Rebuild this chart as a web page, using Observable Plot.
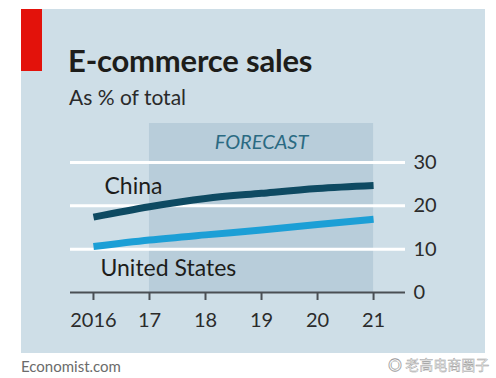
<!DOCTYPE html>
<html>
<head>
<meta charset="utf-8">
<script src="https://cdn.jsdelivr.net/npm/d3@7"></script>
<script src="https://cdn.jsdelivr.net/npm/@observablehq/plot@0.6"></script>
<style>
  html, body { margin: 0; padding: 0; background: #ffffff; }
  #wrap { position: relative; width: 496px; height: 378px; overflow: hidden; font-family: Lato, "Open Sans", sans-serif; }
  #panel { position: absolute; left: 21px; top: 9px; width: 464px; height: 344px; background: #cedee7; }
  #redbar { position: absolute; left: 21px; top: 9px; width: 21px; height: 62px; background: #e3120b; }
  #title { position: absolute; left: 68px; top: 41px; font-size: 31px; font-weight: 700; color: #1d1d1b; letter-spacing: -0.2px; }
  #subtitle { position: absolute; left: 69px; top: 84px; font-size: 21px; color: #2a2a2a; }
  #chart { position: absolute; left: 0; top: 110px; }
  #caption { position: absolute; left: 21px; top: 357px; font-size: 15px; color: #6b6b6b; }
  #mark { position: absolute; left: 388px; top: 356px; font-size: 14px; line-height: 16px; color: #f4f4f4; font-family: "Noto Sans CJK SC", sans-serif; -webkit-text-stroke: 0.4px #9a9a9a; white-space: nowrap; }
</style>
</head>
<body>
<div id="wrap">
  <div id="panel"></div>
  <div id="redbar"></div>
  <div id="title">E-commerce sales</div>
  <div id="subtitle">As % of total</div>
  <div id="chart"></div>
  <div id="caption">Economist.com</div>
  <div id="mark">◎ 老高电商圈子</div>
</div>
<script>
const years = [2016, 2017, 2018, 2019, 2020, 2021];
const china = [17.4, 19.8, 21.7, 22.9, 24.0, 24.7];
const unitedStates = [10.6, 12.1, 13.3, 14.4, 15.7, 16.9];
const yTicks = [0, 10, 20, 30];
const forecastStart = 2017;
const forecastEnd = 2021;

const rows = [];
years.forEach((yr, i) => {
  rows.push({year: yr, value: china[i], series: "China"});
  rows.push({year: yr, value: unitedStates[i], series: "United States"});
});

const chart = Plot.plot({
  width: 496,
  height: 240,
  marginLeft: 70,
  marginRight: 91,
  marginTop: 13,
  marginBottom: 58,
  style: {background: "transparent", overflow: "visible"},
  x: {domain: [2015.59, 2021.57]},
  y: {domain: [0, 39]},
  color: {domain: ["China", "United States"], range: ["#0e4a62", "#1c9fd6"]},
  marks: [
    Plot.rect([{x1: forecastStart, x2: forecastEnd}], {x1: "x1", x2: "x2", fill: "#b6cbd8", fillOpacity: 0.9}),
    Plot.ruleY(yTicks.filter(d => d > 0), {stroke: "#ffffff", strokeWidth: 3}),
    Plot.text(["FORECAST"], {x: (forecastStart + forecastEnd) / 2, frameAnchor: "top", dy: 11, fontSize: 20, fontStyle: "italic", fill: "#2a6a82", fontFamily: "Lato, sans-serif", letterSpacing: 1.5}),
    Plot.ruleY([0], {stroke: "#4a4f54", strokeWidth: 2}),
    Plot.axisX({
      ticks: years,
      tickSize: 8,
      tickPadding: 12,
      tickFormat: d => d === 2016 ? "2016" : String(d).slice(2),
      fontSize: 20,
      label: null,
      stroke: "#4a4f54",
      strokeWidth: 2,
      fill: "#2b2b2b",
      fontFamily: "Lato, sans-serif"
    }),
    Plot.axisY({
      anchor: "right",
      ticks: yTicks,
      tickSize: 0,
      tickPadding: 8,
      fontSize: 20,
      label: null,
      fill: "#2b2b2b",
      fontFamily: "Lato, sans-serif"
    }),
    Plot.line(rows, {x: "year", y: "value", z: "series", stroke: "series", strokeWidth: 7, curve: "monotone-x", strokeLinecap: "butt"}),
    Plot.text(["China"], {x: years[0], y: china[0], dx: 11, dy: -30, textAnchor: "start", fontSize: 23, fill: "#1d1d1b", fontFamily: "Lato, sans-serif"}),
    Plot.text(["United States"], {x: years[0], y: unitedStates[0], dx: 7, dy: 22, textAnchor: "start", fontSize: 23, fill: "#1d1d1b", fontFamily: "Lato, sans-serif"})
  ]
});
document.getElementById("chart").appendChild(chart);
</script>
</body>
</html>
